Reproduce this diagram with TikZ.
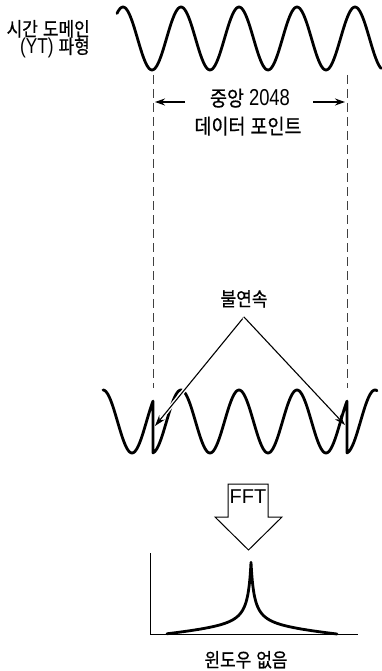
\documentclass[tikz,border=0pt]{standalone}
\usepackage{fontspec}
\setmainfont{Liberation Sans}
\newfontfamily\kr[FakeStretch=0.88, FakeBold=0.6]{Noto Sans CJK KR}
\newfontfamily\latn[FakeStretch=0.8]{Liberation Sans}
\newcommand{\wsp}{\hspace{5pt}}
\usetikzlibrary{arrows.meta}
\begin{document}
\begin{tikzpicture}[x=1pt,y=-1pt,
  wave/.style={line width=2.8pt, line join=round, line cap=round},
  guide/.style={black!75, line width=0.8pt, dash pattern=on 9pt off 5pt},
  lbl/.style={font=\kr\fontsize{19.3}{22}\selectfont, inner sep=0pt},
  midlbl/.style={font=\kr\fontsize{21}{24}\selectfont, inner sep=0pt},
  dimarrow/.style={line width=1.3pt, -{Stealth[length=10pt,width=7pt]}},
  ptr/.style={line width=1.1pt, -{Stealth[length=11pt,width=7pt]},
    preaction={draw=white, line width=4pt, arrows=-, shorten >=14pt}},
  axisline/.style={line width=1pt},
  fftarrow/.style={draw, line width=1pt, fill=white, line join=miter}]
\useasboundingbox (0,0) rectangle (381,671);

% ---- labels top left
\node[lbl, anchor=base east] (yt1) at (90,36) {시간\wsp 도메인};
\node[lbl, anchor=base east] (yt2) at (90,53.5) {{\latn\fontsize{21.5}{23}\selectfont (YT)}\wsp 파형};

% ---- top waveform
\draw[wave] plot[domain=117:381, samples=200]
  (\x, {38.5-31.5*cos(6.206897*(\x-123))});

% ---- guide dashed lines
\coordinate (g1a) at (153,75);
\coordinate (g1b) at (153,388);
\coordinate (g2a) at (347,75);
\coordinate (g2b) at (347,388);
\draw[guide] (g1a) -- (g1b);
\draw[guide] (g2a) -- (g2b);

% ---- middle label and dimension arrows
\node[midlbl, anchor=base] (mid1) at (250,106) {중앙\wsp{\latn\fontsize{23}{25}\selectfont 2048}};
\node[midlbl, anchor=base] (mid2) at (248,134) {데이터\wsp 포인트};
\coordinate (la) at (185,102);
\coordinate (lb) at (155,102);
\coordinate (ra) at (313,102);
\coordinate (rb) at (345,102);
\draw[dimarrow] (la) -- (lb);
\draw[dimarrow] (ra) -- (rb);

% ---- lower (discontinuous) waveform
\draw[wave]
  plot[domain=103:153, samples=60] (\x, {383+38.5-31.5*cos(6.206897*(\x+194-123))})
  -- plot[domain=153:347, samples=200] (\x, {383+38.5-31.5*cos(6.206897*(\x-123))})
  -- plot[domain=347:377, samples=40] (\x, {383+38.5-31.5*cos(6.206897*(\x-194-123))});

% ---- discontinuity label and pointers
\node[lbl, anchor=base] (disc) at (244,306) {불연속};
\coordinate (apex) at (244,317);
\coordinate (tipl) at (155,426);
\coordinate (tipr) at (345,425);
\draw[ptr] (apex) -- (tipl);
\draw[ptr] (apex) -- (tipr);

% ---- FFT block arrow
\draw[fftarrow] (228,484) coordinate (f1) -- (268,484) -- (268,517) -- (282,517)
  -- (248.5,550) coordinate (ftip) -- (215,517) -- (228,517) -- cycle;
\node[font=\fontsize{20}{22}\selectfont, inner sep=0pt, anchor=base] (fft) at (248,503) {FFT};

% ---- spectrum
\coordinate (ax0) at (150,553);
\coordinate (axo) at (150,634);
\coordinate (ax1) at (358,634);
\draw[axisline] (ax0) -- (axo) -- (ax1);
\draw[wave] plot[domain=-84:86, samples=341]
  ({251+\x}, {634-225*(1/(abs(\x)+3.4)-1/89.4)-8*max(0,1-abs(\x)/86)});

\node[lbl, anchor=base] (nowin) at (246,667) {윈도우\wsp 없음};
\end{tikzpicture}
\end{document}
